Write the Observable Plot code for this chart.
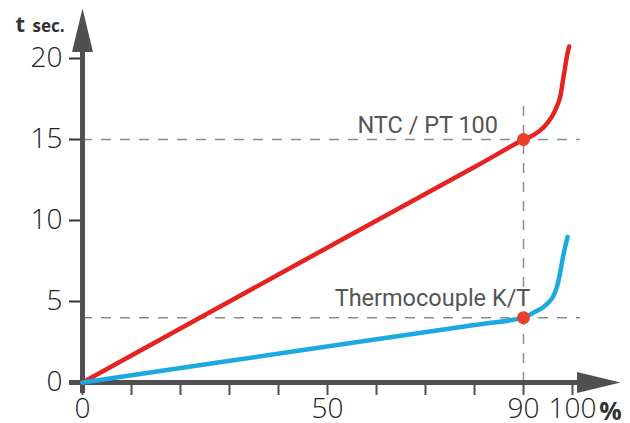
<!DOCTYPE html>
<html>
<head>
<meta charset="utf-8">
<script src="https://cdn.jsdelivr.net/npm/d3@7"></script>
<script src="https://cdn.jsdelivr.net/npm/@observablehq/plot@0.6"></script>
<style>
  html, body { margin: 0; padding: 0; background: #fff; }
</style>
</head>
<body>
<div id="chart"></div>
<script>
// ---- data ----
const xTicks = [0, 10, 20, 30, 40, 50, 60, 70, 80, 90, 100];
const xLabels = [0, 50, 90, 100];
const yTicks = [0, 5, 10, 15, 20];

const ntcX = [0, 45, 80, 90, 92.0, 94.1, 95.8, 96.8, 97.5, 97.95, 98.4, 98.85, 99.3];
const ntcY = [0, 7.5, 13.3, 15, 15.27, 15.75, 16.41, 17.03, 17.64, 18.47, 19.3, 20.12, 20.74];

const tcX = [0, 45, 80, 90, 92.0, 94.1, 95.8, 96.8, 97.5, 98.0, 98.5, 99.0];
const tcY = [0, 2.0, 3.55, 4, 4.31, 4.66, 5.18, 5.89, 6.82, 7.65, 8.37, 8.99];

const markX = [90, 90];
const markY = [15, 4];
const seriesNames = ["NTC / PT 100", "Thermocouple K/T"];
const labelX = [84.8, 91.4];
const labelY = [15, 4];
const guideEndX = 101.6;
const guideTopY = 17.6;

// ---- build tables ----
const ntc = ntcX.map((x, i) => ({x, y: ntcY[i]}));
const tc = tcX.map((x, i) => ({x, y: tcY[i]}));
const marks = markX.map((x, i) => ({x, y: markY[i]}));
const labels = seriesNames.map((name, i) => ({name, x: labelX[i], y: labelY[i]}));

const AXIS = "#505052";
const RED = "#e52421";
const BLUE = "#1ba9e1";
const DOT = "#e8402a";
const DASH = "#8c8c8c";

const upArrow = {
  draw(ctx) {
    ctx.moveTo(0, -50);
    ctx.lineTo(10.5, -6.5);
    ctx.lineTo(-10.5, -6.5);
    ctx.closePath();
  }
};
const rightArrow = {
  draw(ctx) {
    ctx.moveTo(48, 0);
    ctx.lineTo(4.5, -10.5);
    ctx.lineTo(4.5, 10.5);
    ctx.closePath();
  }
};

const labelFont = {fontFamily: "Roboto", fontSize: 23.5, fill: "#555", textAnchor: "end", lineAnchor: "bottom"};

const chart = Plot.plot({
  width: 630,
  height: 423,
  marginLeft: 82,
  marginRight: 58,
  marginTop: 58,
  marginBottom: 41,
  x: {domain: [0, 100], axis: null},
  y: {domain: [0, 20], axis: null},
  style: {background: "#fff", overflow: "visible"},
  marks: [
    // dashed guides
    Plot.ruleY(labelY, {x1: 0, x2: guideEndX, stroke: DASH, strokeWidth: 1.5, strokeDasharray: "10,9"}),
    Plot.ruleX([markX[0]], {y1: 0, y2: guideTopY, stroke: DASH, strokeWidth: 1.5, strokeDasharray: "10,9"}),

    // y axis ticks & labels
    Plot.axisY({
      ticks: yTicks, tickSize: 13, tickPadding: 7,
      stroke: "#333", strokeWidth: 2,
      fill: "#222", fontSize: 28, fontFamily: "Open Sans", fontWeight: 300,
      label: null
    }),
    // x axis ticks
    Plot.axisX({
      ticks: xTicks, tickSize: 13, tickFormat: () => "",
      stroke: AXIS, strokeWidth: 2, label: null
    }),
    // x axis labels
    Plot.axisX({
      ticks: xLabels, tickSize: 0, tickPadding: 16,
      fill: "#222", fontSize: 28, fontFamily: "Open Sans", fontWeight: 300,
      label: null
    }),

    // axis lines + arrowheads
    Plot.ruleX([0], {stroke: AXIS, strokeWidth: 5, insetTop: -7, insetBottom: -11}),
    Plot.ruleY([0], {stroke: AXIS, strokeWidth: 5, insetLeft: -13, insetRight: -6}),
    Plot.dot([{x: 0, y: 20}], {x: "x", y: "y", symbol: upArrow, fill: AXIS, stroke: null, r: 10}),
    Plot.dot([{x: 100, y: 0}], {x: "x", y: "y", symbol: rightArrow, fill: AXIS, stroke: null, r: 10}),

    // curves
    Plot.line(ntc, {x: "x", y: "y", stroke: RED, strokeWidth: 4.5, curve: "catmull-rom"}),
    Plot.line(tc, {x: "x", y: "y", stroke: BLUE, strokeWidth: 4.5, curve: "catmull-rom"}),

    // markers
    Plot.dot(marks, {x: "x", y: "y", r: 6.5, fill: DOT, stroke: null}),

    // series labels
    Plot.text([labels[0]], {x: "x", y: "y", text: "name", dy: -7, ...labelFont}),
    Plot.text([labels[1]], {x: "x", y: "y", text: "name", dy: -12, ...labelFont}),

    // axis titles
    Plot.text(["t"], {x: 0, y: 20, text: (d) => d, textAnchor: "start", lineAnchor: "bottom",
      dx: -67, dy: -26.5, fontFamily: "Open Sans", fontWeight: "bold", fontSize: 22, fill: "#333"}),
    Plot.text(["sec."], {x: 0, y: 20, text: (d) => d, textAnchor: "start", lineAnchor: "bottom",
      dx: -50, dy: -26.5, fontFamily: "Open Sans", fontWeight: "bold", fontSize: 17, fill: "#333"}),
    Plot.text(["%"], {x: 100, y: 0, text: (d) => d, textAnchor: "middle", lineAnchor: "bottom",
      dx: 38, dy: 37, fontFamily: "Open Sans", fontWeight: "bold", fontSize: 25, fill: "#333"})
  ]
});

document.getElementById("chart").appendChild(chart);
</script>
</body>
</html>
